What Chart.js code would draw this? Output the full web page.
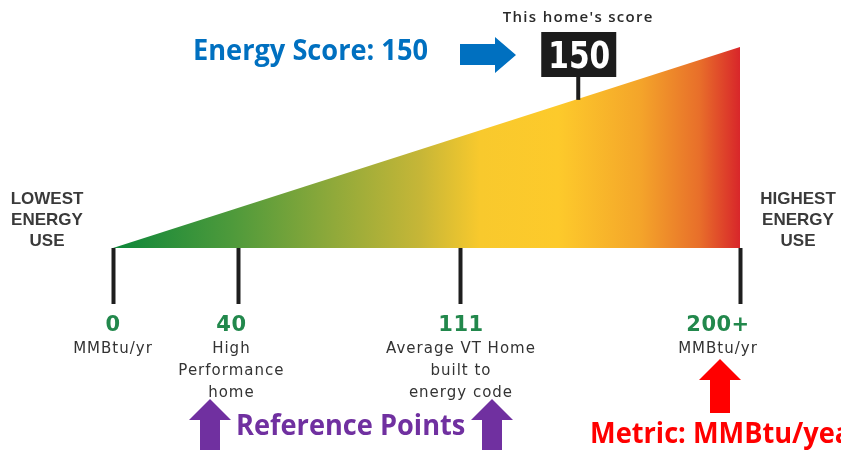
<!DOCTYPE html>
<html><head><meta charset="utf-8">
<style>html,body{margin:0;padding:0;background:#fff;}#wrap{width:841px;height:450px;position:relative;}</style>
</head><body><div id="wrap"><canvas id="c" width="841" height="450"></canvas></div>
<script src="https://cdn.jsdelivr.net/npm/chart.js@4"></script>
<script>
// ---- data ----
const refValues = [0, 40, 111, 200];
const refNumbers = ['0', '40', '111', '200+'];
const refNotes = [['MMBtu/yr'], ['High', 'Performance', 'home'], ['Average VT Home', 'built to', 'energy code'], ['MMBtu/yr']];
const wedgeX = [0, 200];
const wedgeY = [0, 100];
const homeScore = 150;
const scoreCaption = "This home's score";
const scoreTitle = 'Energy Score: 150';
const refTitle = 'Reference Points';
const metricTitle = 'Metric: MMBtu/year';
const lowLabel = ['LOWEST', 'ENERGY', 'USE'];
const highLabel = ['HIGHEST', 'ENERGY', 'USE'];

// ---- drawing helpers ----
function txt(c, s, x, y, font, color, align, maxW, spacing) {
  c.save();
  c.font = font; c.fillStyle = color; c.textAlign = align || 'center'; c.textBaseline = 'alphabetic';
  if (spacing) c.letterSpacing = spacing;
  if (maxW) c.fillText(s, x, y, maxW); else c.fillText(s, x, y);
  c.restore();
}
function upArrow(c, cx, tip, headBase, bottom, headHalf, shaftHalf, color) {
  c.save(); c.fillStyle = color; c.beginPath();
  c.moveTo(cx, tip); c.lineTo(cx + headHalf, headBase); c.lineTo(cx + shaftHalf, headBase);
  c.lineTo(cx + shaftHalf, bottom); c.lineTo(cx - shaftHalf, bottom); c.lineTo(cx - shaftHalf, headBase);
  c.lineTo(cx - headHalf, headBase); c.closePath(); c.fill(); c.restore();
}

const calibriLike = 'bold 28px "Open Sans", "Liberation Sans", sans-serif';

const overlay = {
  id: 'overlay',
  afterDraw(chart) {
    const c = chart.ctx, xs = chart.scales.x, ys = chart.scales.y;
    c.save();
    // horizontal compression matching the narrow original face
    c.font = calibriLike;
    const hs = 235 / c.measureText(scoreTitle).width;

    // Energy score title
    c.save(); c.translate(193, 60); c.scale(hs, 1);
    txt(c, scoreTitle, 0, 0, calibriLike, '#0070C0', 'left'); c.restore();
    // blue arrow
    c.fillStyle = '#0070C0'; c.beginPath();
    c.moveTo(460, 44); c.lineTo(495, 44); c.lineTo(495, 37); c.lineTo(516, 55);
    c.lineTo(495, 73); c.lineTo(495, 65); c.lineTo(460, 65); c.closePath(); c.fill();

    // score marker (original artwork sits slightly left of the linear position)
    const sx = xs.getPixelForValue(homeScore) - 5;
    const sv = xs.getValueForPixel(sx);
    const sy = ys.getPixelForValue(wedgeY[0] + (sv - wedgeX[0]) / (wedgeX[1] - wedgeX[0]) * (wedgeY[1] - wedgeY[0]));
    c.fillStyle = '#1c1c1c';
    c.fillRect(sx - 2, 76, 4, sy - 76 + 1);
    c.fillRect(sx - 37, 32, 75, 45);
    txt(c, String(homeScore), sx + 1, 68, 'bold 37px "DejaVu Sans", sans-serif', '#ffffff', 'center', 62);
    txt(c, scoreCaption, sx, 22, '600 15px "Open Sans", sans-serif', '#2a2a2a', 'center', 158, '1.3px');

    // side labels
    const sideFont = 'bold 17px "Liberation Sans", Arial, sans-serif';
    const sideY = [204, 225, 246];
    lowLabel.forEach((s, i) => txt(c, s, 47, sideY[i], sideFont, '#3a3a3a', 'center'));
    highLabel.forEach((s, i) => txt(c, s, 798, sideY[i], sideFont, '#3a3a3a', 'center'));

    // reference labels
    refValues.forEach((v, i) => {
      let x = xs.getPixelForValue(v);
      if (i === refValues.length - 1) x -= 22;
      if (i === 1) x -= 7;
      txt(c, refNumbers[i], x, 331, 'bold 21px "DejaVu Sans", sans-serif', '#22884c', 'center', null, '0.5px');
      refNotes[i].forEach((s, j) => txt(c, s, x, 353 + j * 22, '15px "DejaVu Sans", sans-serif', '#333333', 'center', null, '1px'));
    });

    // annotations at the bottom
    upArrow(c, 210, 399, 420, 452, 21, 10, '#7030A0');
    upArrow(c, 492, 399, 420, 452, 21, 10, '#7030A0');
    c.save(); c.translate(236, 435); c.scale(hs, 1);
    txt(c, refTitle, 0, 0, calibriLike, '#7030A0', 'left'); c.restore();
    upArrow(c, 720, 359, 380, 413, 21, 10, '#FF0000');
    c.save(); c.translate(590, 443); c.scale(hs, 1);
    txt(c, metricTitle, 0, 0, calibriLike, '#FF0000', 'left'); c.restore();
    c.restore();
  }
};

function wedgeFill(ctx) {
  const chart = ctx.chart; const a = chart.chartArea;
  if (!a) return '#fcc92b';
  const g = chart.ctx.createLinearGradient(a.left, 0, a.right, 0);
  g.addColorStop(0.00, '#0d873a');
  g.addColorStop(0.19, '#4e9a3b');
  g.addColorStop(0.35, '#8fa93a');
  g.addColorStop(0.49, '#c6b637');
  g.addColorStop(0.585, '#f8c92d');
  g.addColorStop(0.71, '#fdca2b');
  g.addColorStop(0.84, '#f4a52a');
  g.addColorStop(0.935, '#e86f2a');
  g.addColorStop(1.00, '#d8262a');
  return g;
}

new Chart(document.getElementById('c'), {
  type: 'line',
  data: {
    datasets: [{
      data: wedgeX.map((x, i) => ({ x: x, y: wedgeY[i] })),
      fill: 'origin',
      backgroundColor: wedgeFill,
      borderWidth: 0,
      borderColor: 'rgba(0,0,0,0)',
      pointRadius: 0,
      tension: 0
    }]
  },
  options: {
    responsive: false,
    animation: false,
    events: [],
    layout: { padding: { left: 113, right: 101, top: 47, bottom: 146 } },
    plugins: { legend: { display: false }, tooltip: { enabled: false } },
    scales: {
      x: {
        type: 'linear', min: 0, max: 200,
        afterBuildTicks: s => { s.ticks = refValues.map(v => ({ value: v })); },
        ticks: { display: false },
        grid: { drawOnChartArea: false, drawTicks: true, tickLength: 56, tickWidth: 4, tickColor: '#1e1e1e' },
        border: { display: false }
      },
      y: { display: false, min: 0, max: 100 }
    }
  },
  plugins: [overlay]
});
</script>
</body></html>
